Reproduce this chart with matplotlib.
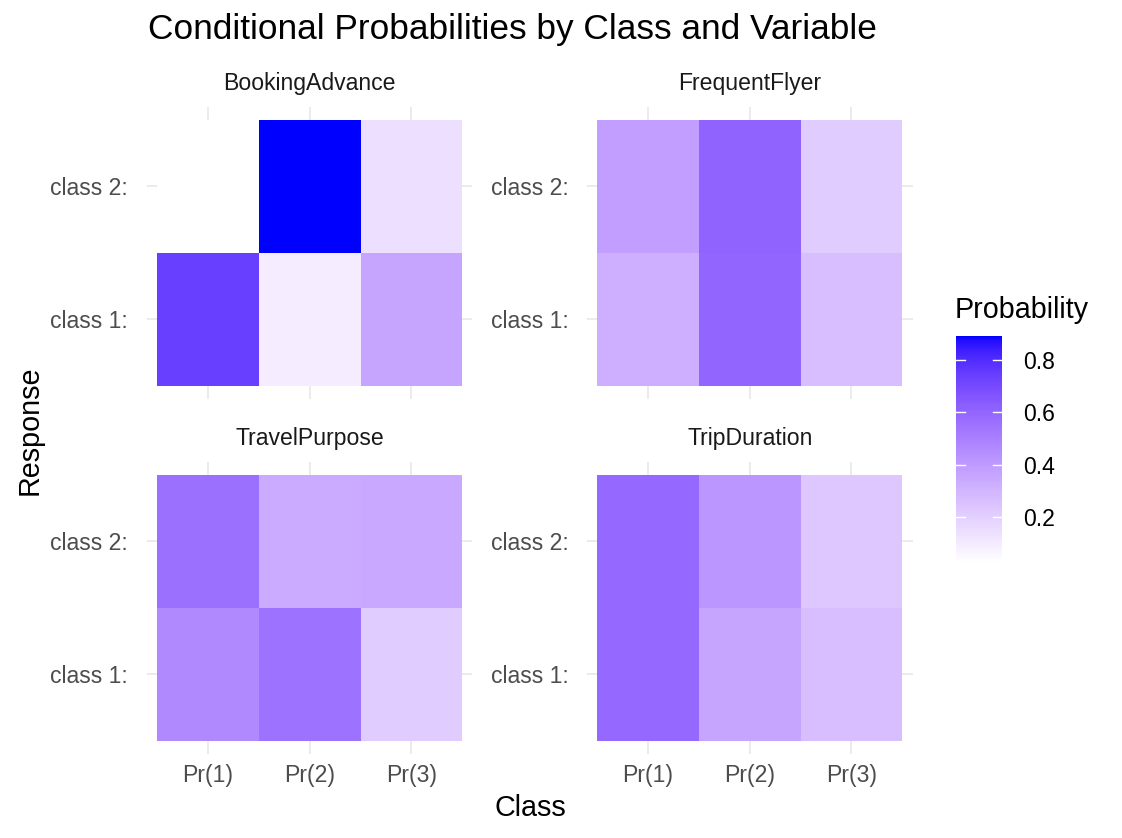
import matplotlib
matplotlib.use("Agg")
import matplotlib.pyplot as plt
import numpy as np
from matplotlib.colors import ListedColormap, Normalize
from matplotlib.cm import ScalarMappable

plt.rcParams['font.family'] = ['Liberation Sans', 'DejaVu Sans']

# Data
variables = ["BookingAdvance", "FrequentFlyer", "TravelPurpose", "TripDuration"]
class_labels = ["Pr(1)", "Pr(2)", "Pr(3)"]
response_labels = ["class 1:", "class 2:"]

booking_class1 = [0.743, 0.094, 0.360]
booking_class2 = [0.025, 0.890, 0.145]
flyer_class1 = [0.320, 0.600, 0.267]
flyer_class2 = [0.388, 0.608, 0.215]
purpose_class1 = [0.466, 0.553, 0.215]
purpose_class2 = [0.561, 0.336, 0.345]
duration_class1 = [0.587, 0.362, 0.267]
duration_class2 = [0.587, 0.414, 0.232]

panel_values = {
    "BookingAdvance": [booking_class1, booking_class2],
    "FrequentFlyer": [flyer_class1, flyer_class2],
    "TravelPurpose": [purpose_class1, purpose_class2],
    "TripDuration": [duration_class1, duration_class2],
}


def lab_gradient(n=256):
    """white -> blue interpolated in CIELAB, like ggplot's scale_fill_gradient"""
    white = np.array([100.0, 0.0, 0.0])
    blue = np.array([32.30, 79.19, -107.86])
    t = np.linspace(0, 1, n)[:, None]
    lab = white + (blue - white) * t
    L, a, b = lab[:, 0], lab[:, 1], lab[:, 2]
    fy = (L + 16) / 116
    fx = fy + a / 500
    fz = fy - b / 200

    def finv(f):
        return np.where(f > 6 / 29, f ** 3, 3 * (6 / 29) ** 2 * (f - 4 / 29))

    X = 0.95047 * finv(fx)
    Y = finv(fy)
    Z = 1.08883 * finv(fz)
    M = np.array([[3.2406, -1.5372, -0.4986],
                  [-0.9689, 1.8758, 0.0415],
                  [0.0557, -0.2040, 1.0570]])
    rgb = np.stack([X, Y, Z], axis=1) @ M.T
    rgb = np.clip(rgb, 0, 1)
    rgb = np.where(rgb <= 0.0031308, 12.92 * rgb, 1.055 * rgb ** (1 / 2.4) - 0.055)
    return ListedColormap(np.clip(rgb, 0, 1))


cmap = lab_gradient()
all_vals = np.array([v for rows in panel_values.values() for v in rows])
norm = Normalize(vmin=all_vals.min(), vmax=all_vals.max())

fig = plt.figure(figsize=(11.22, 8.38), dpi=100)
fig.patch.set_facecolor('white')

lefts = [0.1310, 0.5232]
bottoms = [0.5235, 0.0999]
w, h = 0.2901, 0.3492

for i, var in enumerate(variables):
    row, col = divmod(i, 2)
    ax = fig.add_axes([lefts[col], bottoms[row], w, h])
    vals = np.array(panel_values[var])
    xe = np.arange(len(class_labels) + 1) + 0.5
    ye = np.arange(len(response_labels) + 1) + 0.5
    ax.pcolormesh(xe, ye, vals, cmap=cmap, norm=norm, zorder=2)
    ax.set_xlim(0.4, 3.6)
    ax.set_ylim(0.4, 2.6)
    ax.set_xticks(range(1, 4))
    ax.set_yticks(range(1, 3))
    ax.grid(True, color='#E5E5E5', linewidth=1.1, zorder=0)
    ax.set_axisbelow(True)
    for s in ax.spines.values():
        s.set_visible(False)
    ax.tick_params(length=0, labelsize=16.6, labelcolor='#4D4D4D')
    ax.tick_params(axis='y', pad=13.5)
    ax.tick_params(axis='x', pad=7)
    ax.set_yticklabels(response_labels)
    if row == 1:
        ax.set_xticklabels(class_labels)
    else:
        ax.set_xticklabels([])
    ax.set_title(var, fontsize=16.6, color='#1A1A1A', pad=12)

fig.text(148 / 1122, 1 - 30 / 838, "Conditional Probabilities by Class and Variable",
         fontsize=25.4, va='center', ha='left')
fig.text(530 / 1122, 1 - 808 / 838, "Class", fontsize=20.7, ha='center', va='center')
fig.text(30 / 1122, 1 - 430 / 838, "Response", fontsize=20.7, ha='center', va='center',
         rotation=90)

# Colour bar legend
cax = fig.add_axes([956 / 1122, 1 - 563 / 838, 46 / 1122, 227 / 838])
sm = ScalarMappable(norm=norm, cmap=cmap)
cb = fig.colorbar(sm, cax=cax)
cb.outline.set_visible(False)
ticks = [0.2, 0.4, 0.6, 0.8]
cb.set_ticks(ticks)
cb.set_ticklabels(["0.2", "0.4", "0.6", "0.8"])
cax.tick_params(length=0, labelsize=16.6, pad=15)
for t in ticks:
    cax.plot([0, 0.2], [t, t], color='white', linewidth=1.0)
    cax.plot([0.8, 1], [t, t], color='white', linewidth=1.0)
fig.text(955 / 1122, 1 - 310 / 838, "Probability", fontsize=20.7, ha='left', va='center')

plt.savefig('out.png', dpi=100)
